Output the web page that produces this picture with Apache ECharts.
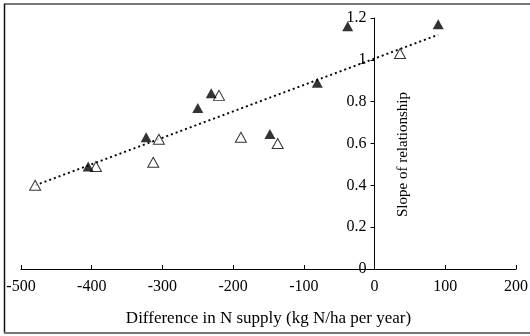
<!DOCTYPE html>
<html>
<head>
<meta charset="utf-8">
<script src="https://cdn.jsdelivr.net/npm/echarts@6/dist/echarts.min.js"></script>
<style>
html,body{margin:0;padding:0;background:#fff;}
#chart{width:530px;height:336px;}
</style>
</head>
<body>
<div id="chart"></div>
<script>
// filled triangles
var filledX = [-405, -323, -250, -231, -148, -81, -38, 90];
var filledY = [0.49, 0.63, 0.77, 0.84, 0.645, 0.89, 1.16, 1.17];
// open triangles
var openX = [-480, -394, -313, -305, -220, -189, -137, 36];
var openY = [0.40, 0.49, 0.51, 0.62, 0.83, 0.63, 0.60, 1.03];
// dotted trend line ends
var trendX = [-480, 90];
var trendY = [0.40, 1.12];

function pairs(xs, ys) {
	return xs.map(function(x, i) { return [x, ys[i]]; });
}

var font = 'Liberation Serif';
var gLeft = 21, gRight = 14;
var xMin = -500, xMax = 200;
// y axis sits at x = 0, push it there from the grid's left edge
var plotW = 530 - gLeft - gRight;
var yShift = (0 - xMin) / (xMax - xMin) * plotW;

var myChart = echarts.init(document.getElementById('chart'));
var option = {
	backgroundColor: '#fff',
	animation: false,
	textStyle: { fontFamily: font },
	grid: { left: gLeft, right: gRight, top: 18, bottom: 67, containLabel: false, outerBoundsMode: 'none' },
	xAxis: {
		type: 'value',
		min: xMin, max: xMax, interval: 100,
		name: 'Difference in N supply (kg N/ha per year)',
		nameLocation: 'middle',
		nameGap: 41,
		nameTextStyle: { color: '#000', fontSize: 17, fontFamily: font },
		axisLine: { onZero: true, lineStyle: { color: '#000', width: 1 } },
		axisTick: { inside: true, length: 4, lineStyle: { color: '#000' } },
		axisLabel: { color: '#000', fontSize: 16, margin: 10, fontFamily: font },
		splitLine: { show: false }
	},
	yAxis: {
		type: 'value',
		min: 0, max: 1.2, interval: 0.2,
		offset: -yShift,
		name: 'Slope of relationship',
		nameLocation: 'middle',
		nameRotate: 90,
		nameGap: -36,
		// extra room on one end pushes the label a bit down the axis
		nameTextStyle: { color: '#000', fontSize: 15, fontFamily: font, padding: [0, 22, 0, 0] },
		axisLine: { onZero: false, lineStyle: { color: '#000', width: 1 } },
		axisTick: { length: 4, lineStyle: { color: '#000' } },
		axisLabel: { color: '#000', fontSize: 16, margin: 8, fontFamily: font },
		splitLine: { show: false }
	},
	graphic: [
		{ type: 'line', shape: { x1: 4, y1: 4, x2: 530, y2: 4 }, style: { stroke: '#777', lineWidth: 2 } },
		{ type: 'line', shape: { x1: 4.5, y1: 4, x2: 4.5, y2: 333 }, style: { stroke: '#111', lineWidth: 1.5 } },
		{ type: 'line', shape: { x1: 4, y1: 333, x2: 530, y2: 333 }, style: { stroke: '#777', lineWidth: 2 } }
	],
	series: [{
		type: 'line',
		data: pairs(trendX, trendY),
		symbol: 'none',
		lineStyle: { color: '#000', width: 2, type: [2, 3] },
		z: 1
	}, {
		type: 'scatter',
		data: pairs(openX, openY),
		symbol: 'triangle',
		symbolSize: [11, 10],
		itemStyle: { color: '#fff', borderColor: '#000', borderWidth: 1 },
		z: 3
	}, {
		type: 'scatter',
		data: pairs(filledX, filledY),
		symbol: 'triangle',
		symbolSize: [11, 10],
		itemStyle: { color: '#000' },
		z: 4
	}]
};
myChart.setOption(option);
</script>
</body>
</html>
